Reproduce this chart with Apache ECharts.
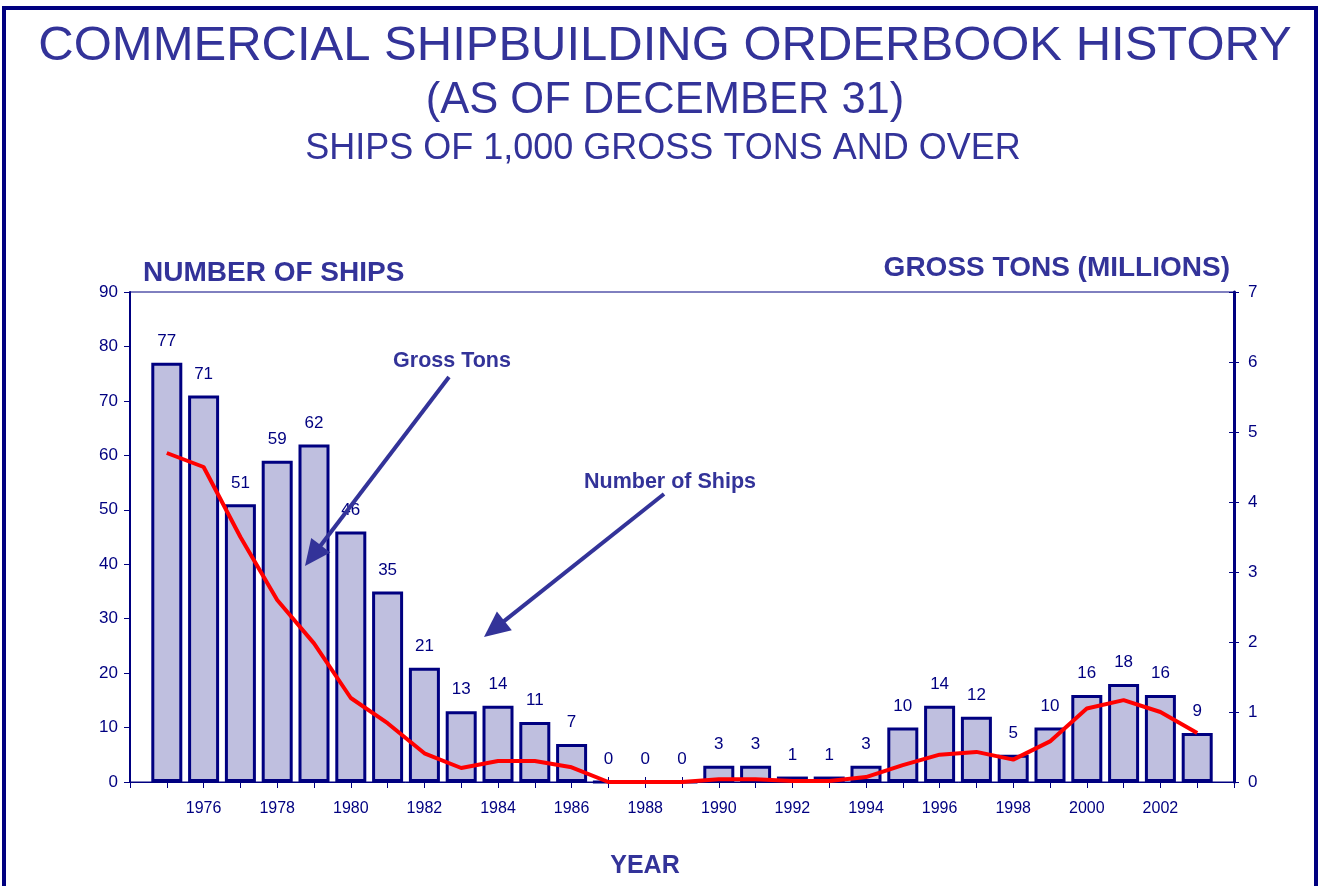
<!DOCTYPE html>
<html>
<head>
<meta charset="utf-8">
<script src="https://cdn.jsdelivr.net/npm/echarts@6/dist/echarts.min.js"></script>
<style>
  html, body { margin: 0; padding: 0; background: #fff; }
  #chart { width: 1321px; height: 886px; }
</style>
</head>
<body>
<div id="chart"></div>
<script>
// orderbook data
const years = [1975, 1976, 1977, 1978, 1979, 1980, 1981, 1982, 1983, 1984, 1985, 1986, 1987, 1988, 1989,
  1990, 1991, 1992, 1993, 1994, 1995, 1996, 1997, 1998, 1999, 2000, 2001, 2002, 2003]
const ships = [77, 71, 51, 59, 62, 46, 35, 21, 13, 14, 11, 7, 0, 0, 0,
  3, 3, 1, 1, 3, 10, 14, 12, 5, 10, 16, 18, 16, 9]
const grossTons = [4.7, 4.5, 3.5, 2.6, 1.98, 1.2, 0.84, 0.41, 0.2, 0.3, 0.3, 0.21, 0, 0, 0,
  0.04, 0.04, 0.015, 0.015, 0.07, 0.24, 0.39, 0.43, 0.32, 0.58, 1.05, 1.17, 1.0, 0.7]
const yearLabels = [1976, 1978, 1980, 1982, 1984, 1986, 1988, 1990, 1992, 1994, 1996, 1998, 2000, 2002]

const NAVY = '#000080'
const INK = '#333399'
const FONT = '"Liberation Sans", Arial, sans-serif'

function arrow(x1, y1, x2, y2) {
  // line from (x1,y1) to tip (x2,y2) with a filled head
  const dx = x2 - x1, dy = y2 - y1
  const len = Math.sqrt(dx * dx + dy * dy)
  const ux = dx / len, uy = dy / len
  const hl = 26, hw = 12
  const bx = x2 - ux * hl, by = y2 - uy * hl
  return [
    { type: 'line', z: 100, shape: { x1: x1, y1: y1, x2: bx + ux * 4, y2: by + uy * 4 }, style: { stroke: INK, lineWidth: 4 } },
    { type: 'polygon', z: 100, shape: { points: [[x2, y2], [bx - uy * hw, by + ux * hw], [bx + uy * hw, by - ux * hw]] }, style: { fill: INK } }
  ]
}

const chart = echarts.init(document.getElementById('chart'))
chart.setOption({
  animation: false,
  textStyle: { fontFamily: FONT },
  grid: { left: 130, right: 87, top: 292, bottom: 104, show: true, borderColor: NAVY, borderWidth: 1, outerBoundsMode: 'none' },
  xAxis: [
    {
      type: 'value', min: 1974, max: 2004, interval: 1,
      name: 'YEAR', nameLocation: 'middle', nameGap: 72,
      nameTextStyle: { color: INK, fontSize: 25, fontWeight: 'bold', padding: [0, 74, 0, 0] },
      axisLine: { lineStyle: { color: NAVY, width: 1 } },
      axisTick: { length: 6, lineStyle: { color: NAVY } },
      splitLine: { show: false },
      axisLabel: {
        color: NAVY, fontSize: 16, margin: 19,
        formatter: function (v) { return yearLabels.indexOf(v) >= 0 ? String(v) : '' }
      }
    },
    {
      type: 'value', min: 1974, max: 2004, interval: 1, position: 'bottom',
      axisLine: { show: false }, axisLabel: { show: false }, splitLine: { show: false },
      axisTick: { inside: true, length: 5, lineStyle: { color: NAVY } }
    }
  ],
  yAxis: [
    {
      type: 'value', min: 0, max: 90, interval: 10,
      name: 'NUMBER OF SHIPS', nameLocation: 'end', nameGap: 19,
      nameTextStyle: { color: INK, fontSize: 28, fontWeight: 'bold', align: 'left', verticalAlign: 'middle', padding: [0, 0, 0, 13] },
      axisLine: { show: true, lineStyle: { color: NAVY, width: 2 } },
      axisTick: { show: true, length: 6, lineStyle: { color: NAVY } },
      splitLine: { show: false },
      axisLabel: { color: NAVY, fontSize: 17, margin: 12 }
    },
    {
      type: 'value', min: 0, max: 7, interval: 1, position: 'right',
      name: 'GROSS TONS (MILLIONS)', nameLocation: 'end', nameGap: 24,
      nameTextStyle: { color: INK, fontSize: 28, fontWeight: 'bold', align: 'right', verticalAlign: 'middle', padding: [0, 4, 0, 0] },
      axisLine: { show: true, lineStyle: { color: NAVY, width: 3 } },
      axisTick: { show: true, length: 5, lineStyle: { color: NAVY } },
      splitLine: { show: false },
      axisLabel: { color: NAVY, fontSize: 17, margin: 14 }
    },
    {
      type: 'value', min: 0, max: 7, interval: 1, position: 'right',
      axisLine: { show: false }, axisLabel: { show: false }, splitLine: { show: false },
      axisTick: { show: true, inside: true, length: 5, lineStyle: { color: NAVY } }
    }
  ],
  series: [
    {
      name: 'Number of Ships', type: 'bar', xAxisIndex: 0, yAxisIndex: 0,
      data: years.map(function (y, i) { return [y, ships[i]] }),
      barWidth: 31,
      itemStyle: { color: '#BFBFDF', borderColor: NAVY, borderWidth: 3 },
      label: { show: true, position: 'top', distance: 13, color: NAVY, fontSize: 17 }
    },
    {
      name: 'Gross Tons', type: 'line', xAxisIndex: 0, yAxisIndex: 1,
      data: years.map(function (y, i) { return [y, grossTons[i]] }),
      showSymbol: false, symbol: 'none', z: 5,
      lineStyle: { color: '#FF0000', width: 4 }
    }
  ],
  graphic: [
    { type: 'rect', z: 100, shape: { x: 4, y: 8, width: 1312, height: 900 }, style: { fill: 'none', stroke: NAVY, lineWidth: 4 }, silent: true },
    { type: 'text', z: 100, x: 665, y: 46, style: { text: 'COMMERCIAL SHIPBUILDING ORDERBOOK HISTORY', font: '49px ' + FONT, fill: INK, textAlign: 'center', textVerticalAlign: 'middle' } },
    { type: 'text', z: 100, x: 665, y: 101, style: { text: '(AS OF DECEMBER 31)', font: '43.5px ' + FONT, fill: INK, textAlign: 'center', textVerticalAlign: 'middle' } },
    { type: 'text', z: 100, x: 663, y: 149, style: { text: 'SHIPS OF 1,000 GROSS TONS AND OVER', font: '36px ' + FONT, fill: INK, textAlign: 'center', textVerticalAlign: 'middle' } },
    { type: 'text', z: 100, x: 452, y: 361, style: { text: 'Gross Tons', font: 'bold 21.5px ' + FONT, fill: INK, textAlign: 'center', textVerticalAlign: 'middle' } },
    { type: 'text', z: 100, x: 670, y: 482, style: { text: 'Number of Ships', font: 'bold 21.5px ' + FONT, fill: INK, textAlign: 'center', textVerticalAlign: 'middle' } }
  ].concat(arrow(449, 377, 305, 566), arrow(664, 494, 484, 637))
})
</script>
</body>
</html>
